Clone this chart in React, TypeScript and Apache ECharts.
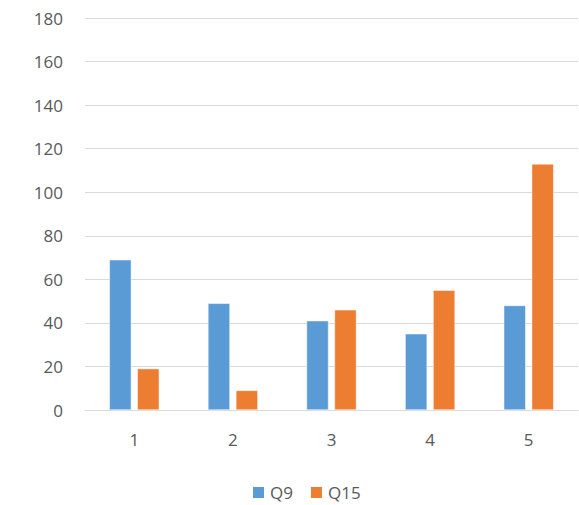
import React, { useEffect, useRef } from "react";
import * as echarts from "echarts";

const categories = ["1", "2", "3", "4", "5"];
const q9 = [69, 49, 41, 35, 48];
const q15 = [19, 9, 46, 55, 113];

export default function App() {
  const ref = useRef<HTMLDivElement>(null);
  useEffect(() => {
    document.body.style.margin = "0";
    if (!ref.current) return;
    const chart = echarts.init(ref.current, null, { renderer: "svg" });
    const font = "Open Sans, Liberation Sans, sans-serif";
    chart.setOption({
      animation: false,
      color: ["#5b9bd5", "#ed7d31"],
      grid: { left: 85, right: 1, top: 18, bottom: 95 },
      legend: {
        left: 251,
        top: 484,
        padding: 0,
        itemWidth: 13,
        itemHeight: 13,
        itemGap: 16,
        icon: "rect",
        textStyle: { color: "#595959", fontSize: 17, lineHeight: 17, fontFamily: font },
        data: ["Q9", "Q15"],
      },
      xAxis: {
        type: "category",
        data: categories,
        axisLine: { lineStyle: { color: "#d9d9d9", width: 1 } },
        axisTick: { show: false },
        axisLabel: { color: "#595959", fontSize: 17, fontFamily: font, margin: 21 },
      },
      yAxis: {
        type: "value",
        min: 0,
        max: 180,
        interval: 20,
        axisLine: { show: false },
        axisTick: { show: false },
        splitLine: { lineStyle: { color: "#d9d9d9", width: 1 } },
        axisLabel: { color: "#595959", fontSize: 17, fontFamily: font, margin: 22 },
      },
      series: [
        {
          name: "Q9",
          type: "bar",
          data: q9,
          barWidth: 22,
          barGap: "27%",
          itemStyle: { borderColor: "#ffffff", borderWidth: 0.5 },
        },
        {
          name: "Q15",
          type: "bar",
          data: q15,
          barWidth: 22,
          barGap: "27%",
          itemStyle: { borderColor: "#ffffff", borderWidth: 0.5 },
        },
      ],
    });
    return () => chart.dispose();
  }, []);
  return <div ref={ref} style={{ width: 579, height: 505 }} />;
}
